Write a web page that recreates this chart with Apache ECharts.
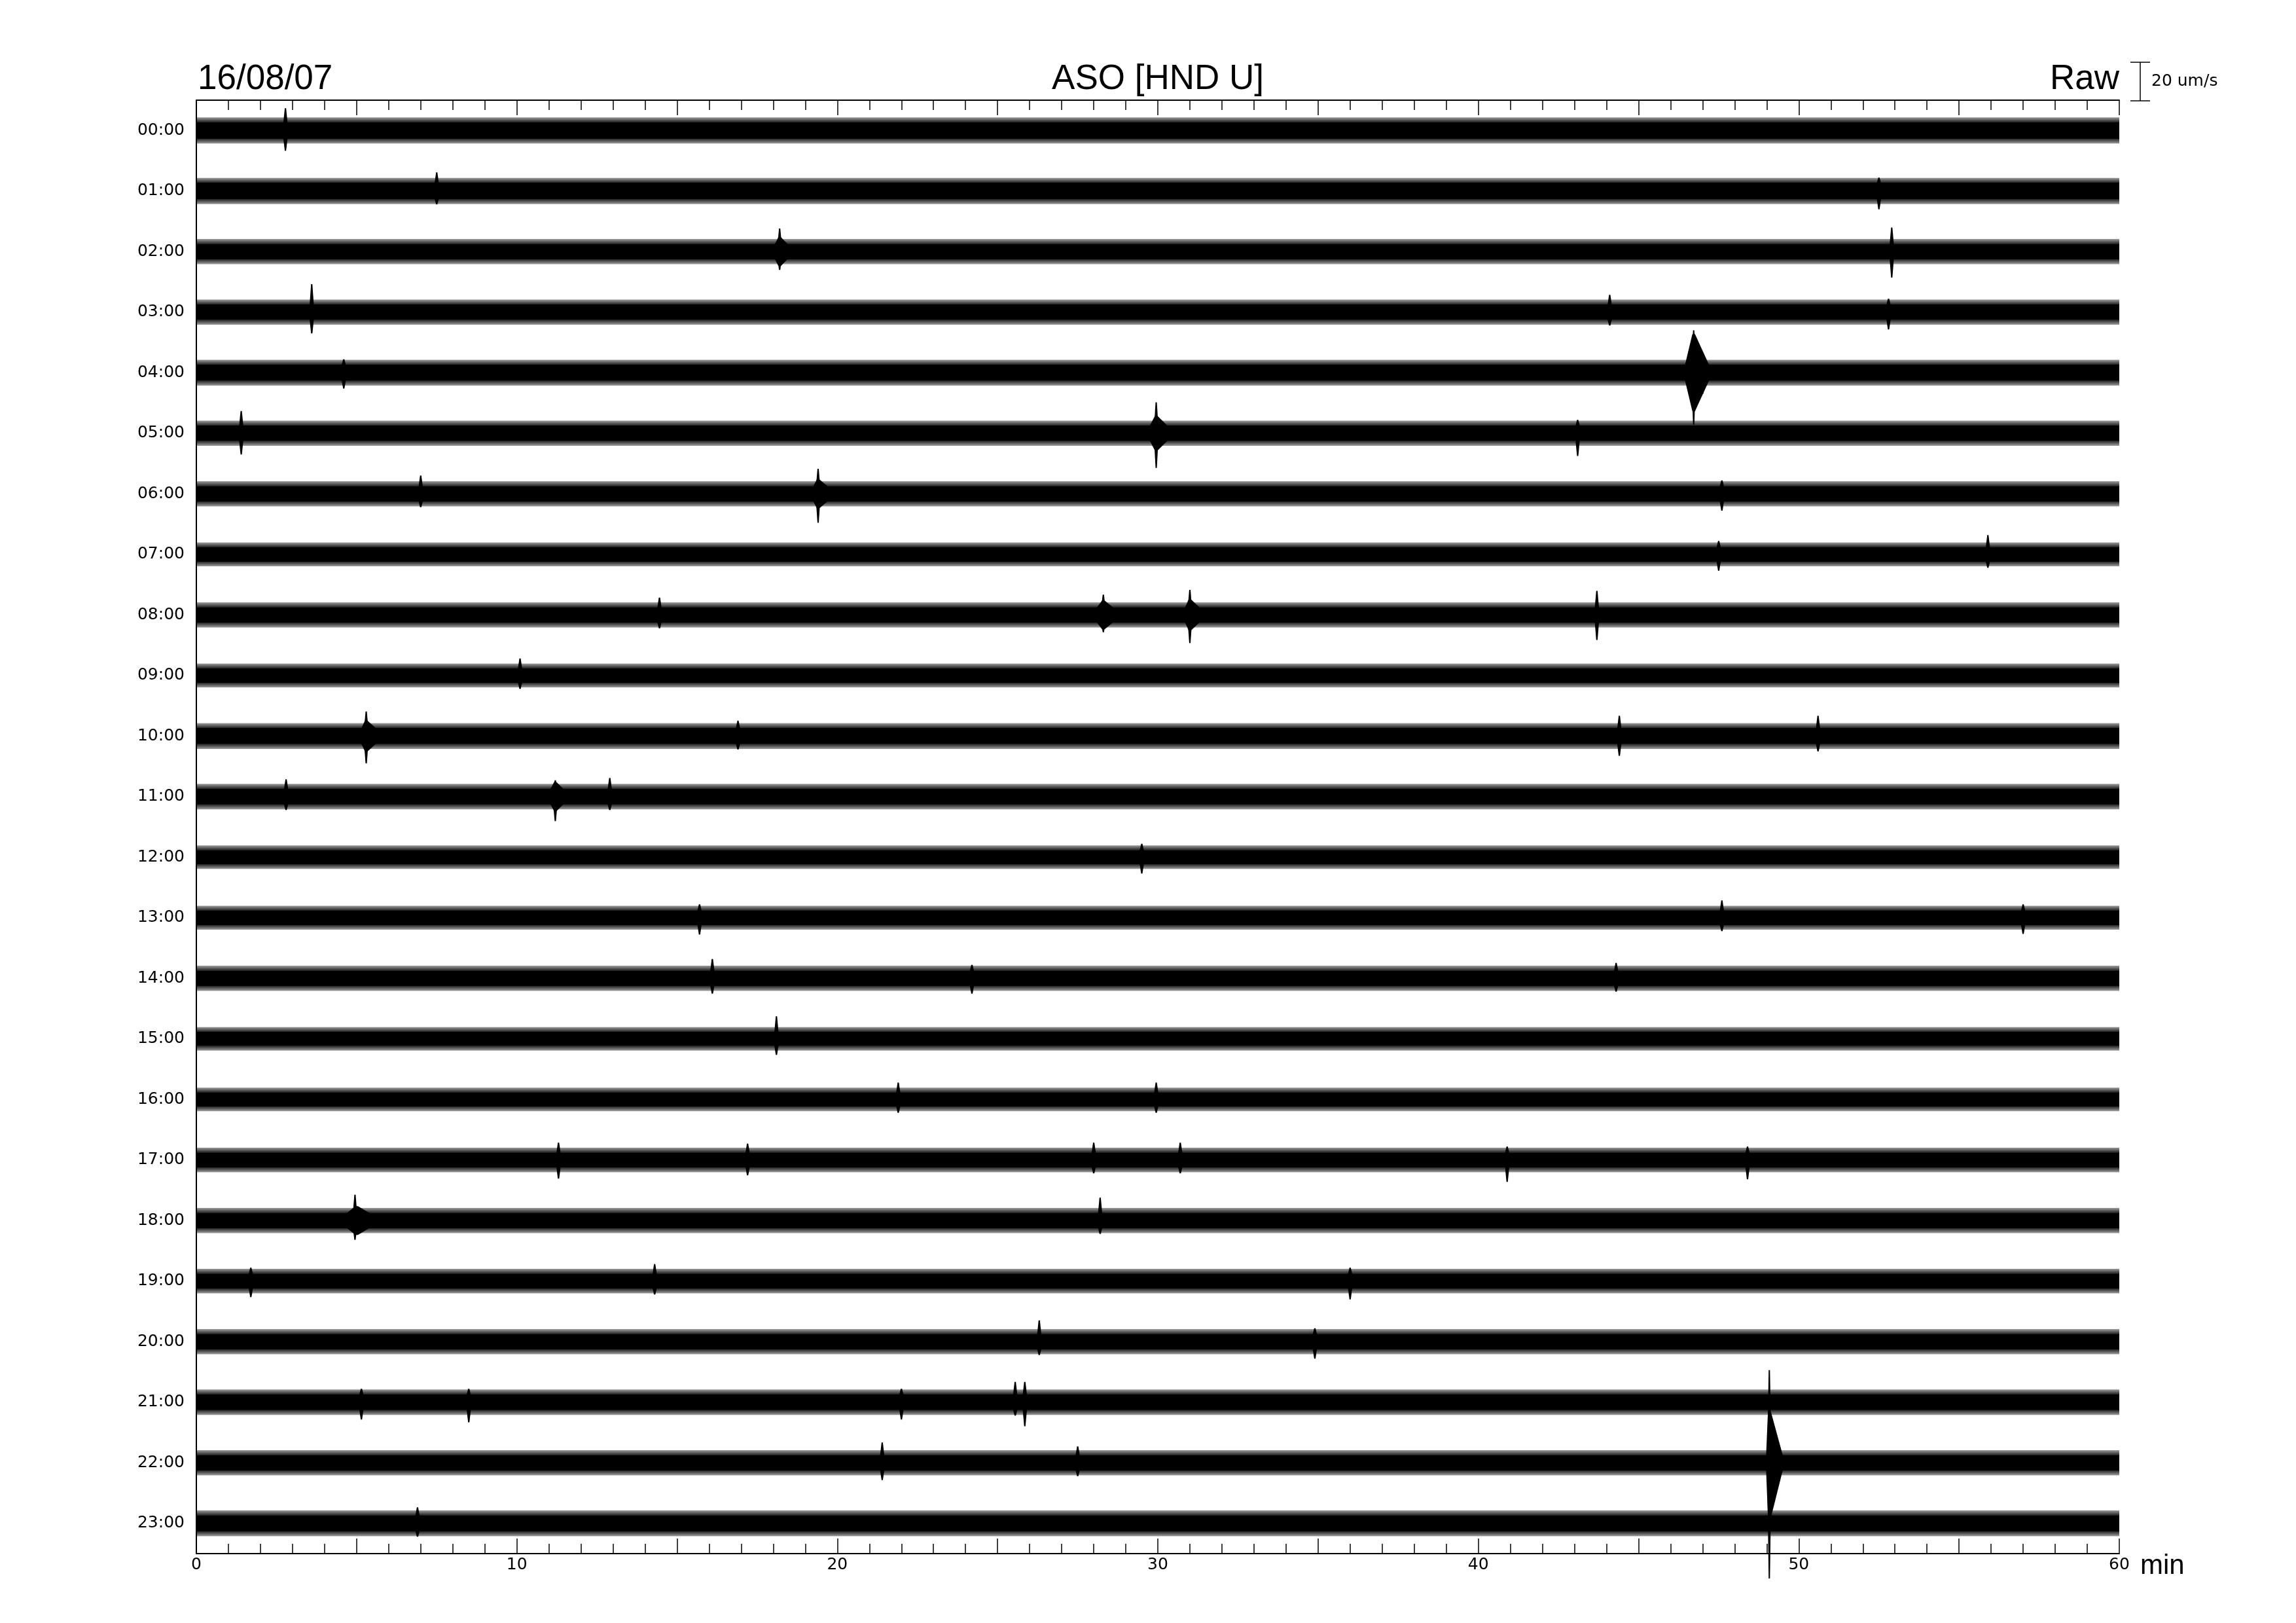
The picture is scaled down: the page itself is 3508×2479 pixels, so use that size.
<!DOCTYPE html>
<html>
<head>
<meta charset="utf-8">
<script src="https://cdn.jsdelivr.net/npm/echarts@6/dist/echarts.min.js"></script>
<style>
html,body{margin:0;padding:0;background:#fff;}
#c{width:3508px;height:2479px;}
</style>
</head>
<body>
<div id="c"></div>
<script>
// ---------- data ----------
const hourLabels = ['00:00','01:00','02:00','03:00','04:00','05:00','06:00','07:00','08:00','09:00','10:00','11:00',
  '12:00','13:00','14:00','15:00','16:00','17:00','18:00','19:00','20:00','21:00','22:00','23:00'];
// trace spacing expressed in um/s (scale bar 20 um/s vs. line spacing)
const UM_PER_TRACE = 31.4;
const SCALE_BAR_UM = 20;
// half-width (um/s) of the dense noise core of each hourly trace
const coreAmp = [4.2,4.2,3.9,3.9,4.1,3.9,3.9,3.7,3.9,3.7,4.1,4.0,3.6,3.7,3.9,3.6,3.6,3.8,3.9,3.8,3.9,4.0,3.9,4.1];
// typical excursion (um/s) of the ordinary noise peaks of each trace
const peakAmp = [6.8,6.8,6.5,6.5,6.7,6.5,6.5,6.2,6.5,6.2,6.7,6.6,6.1,6.2,6.5,6.1,6.1,6.4,6.5,6.4,6.5,6.6,6.5,6.7];
// isolated spikes: [hour, minute, up um/s, down um/s]
const spikes = [
  [0, 2.78, 11.5, 10.5],
  [1, 7.5, 9.7, 7],
  [1, 52.5, 7, 9.5],
  [2, 18.2, 12, 9.5],
  [2, 52.9, 12.5, 13.5],
  [3, 3.6, 14.5, 11],
  [3, 44.1, 9, 7],
  [3, 52.8, 7, 9],
  [4, 4.6, 7, 8.2],
  [4, 46.72, 22, 27],
  [4, 47.0, 8, 11],
  [5, 1.4, 11.5, 11],
  [5, 29.95, 16, 18],
  [5, 43.1, 7, 11.8],
  [6, 7.0, 9.5, 7],
  [6, 19.4, 13, 15],
  [6, 47.6, 7, 8.7],
  [7, 47.5, 7, 8.5],
  [7, 55.9, 10, 7],
  [8, 14.45, 9, 7],
  [8, 28.3, 10.5, 9],
  [8, 31.0, 13, 14.6],
  [8, 43.7, 12.5, 13],
  [9, 10.1, 8.8, 7],
  [10, 5.3, 12.7, 14.2],
  [10, 16.9, 8, 7],
  [10, 44.4, 10.5, 10.3],
  [10, 50.6, 10.5, 8],
  [11, 2.8, 9, 7],
  [11, 11.2, 8.5, 12.7],
  [11, 12.9, 9.7, 7],
  [12, 29.5, 7, 8.5],
  [13, 15.7, 7, 8.7],
  [13, 47.6, 9, 7],
  [13, 57.0, 7, 8.4],
  [14, 16.1, 10, 8],
  [14, 24.2, 7, 8],
  [14, 44.3, 8, 7],
  [15, 18.1, 11.7, 8.3],
  [16, 21.9, 8.7, 7],
  [16, 29.95, 8.7, 7],
  [17, 11.3, 9, 9.7],
  [17, 17.2, 8.5, 8],
  [17, 28.0, 9, 7],
  [17, 30.7, 9, 7],
  [17, 40.9, 7, 11.4],
  [17, 48.4, 7, 10],
  [18, 4.95, 13.4, 10],
  [18, 28.2, 11.9, 7],
  [19, 1.7, 7, 8.3],
  [19, 14.3, 8.8, 7],
  [19, 36.0, 7, 9.5],
  [20, 26.3, 11, 7],
  [20, 34.9, 7, 8.8],
  [21, 5.15, 7, 9],
  [21, 8.5, 7, 10.4],
  [21, 22.0, 7, 9],
  [21, 25.55, 10.5, 7],
  [21, 25.85, 10.5, 12.5],
  [22, 21.4, 10.5, 9],
  [22, 27.5, 8.5, 7],
  [22, 49.08, 48, 60],
  [23, 6.9, 8.3, 7]
];
// wave trains (spindles): [hour, start min, peak min, end min, up um/s, down um/s]
const bursts = [
  [2, 18.05, 18.2, 18.45, 7.5, 7.5],
  [4, 46.45, 46.72, 47.2, 20, 20],
  [5, 29.75, 29.95, 30.3, 9, 9],
  [6, 19.25, 19.4, 19.7, 7.5, 7.5],
  [8, 28.1, 28.3, 28.6, 7.5, 7.5],
  [8, 30.85, 31.0, 31.3, 8, 8],
  [10, 5.15, 5.3, 5.6, 8, 8],
  [11, 11.05, 11.2, 11.45, 7.5, 7.5],
  [18, 4.7, 5.0, 5.4, 7.5, 7.5],
  [22, 48.98, 49.08, 49.5, 27, 29]
];

// ---------- chart ----------
const chart = echarts.init(document.getElementById('c'), null, {renderer: 'canvas'});
const INK = '#000';
const bandData = hourLabels.map((h, i) => [i, coreAmp[i], peakAmp[i]]);

function yOf(api, i, um) { return api.coord([0, i + um / UM_PER_TRACE])[1]; }

function renderBand(params, api) {
  const i = api.value(0), c = api.value(1), p = api.value(2);
  const x0 = api.coord([0, i])[0], x1 = api.coord([60, i])[0];
  const yt = yOf(api, i, -p), yb = yOf(api, i, p);
  const s1 = (p - c) / (2 * p);
  return {
    type: 'rect',
    shape: {x: x0, y: yt, width: x1 - x0, height: yb - yt},
    style: {
      fill: new echarts.graphic.LinearGradient(0, 0, 0, 1, [
        {offset: 0, color: 'rgba(0,0,0,0.38)'},
        {offset: s1, color: 'rgba(0,0,0,0.88)'},
        {offset: s1 + 0.002, color: '#000'},
        {offset: 1 - s1 - 0.002, color: '#000'},
        {offset: 1 - s1, color: 'rgba(0,0,0,0.88)'},
        {offset: 1, color: 'rgba(0,0,0,0.38)'}
      ])
    }
  };
}

function renderSpike(params, api) {
  const i = api.value(0), m = api.value(1), up = api.value(2), dn = api.value(3);
  const c = coreAmp[i];
  const x = api.coord([m, i])[0];
  const yu = yOf(api, i, -up), yd = yOf(api, i, dn);
  const ycu = yOf(api, i, -c), ycd = yOf(api, i, c);
  const w = 3.2, t = 1.0;
  return {
    type: 'polygon',
    shape: {points: [[x - w, ycu], [x - t, yu], [x + t, yu], [x + w, ycu], [x + w, ycd], [x + t, yd], [x - t, yd], [x - w, ycd]]},
    style: {fill: INK}
  };
}

function renderBurst(params, api) {
  const i = api.value(0), s = api.value(1), pk = api.value(2), e = api.value(3), up = api.value(4), dn = api.value(5);
  const c = coreAmp[i];
  const xs = api.coord([s, i])[0], xp = api.coord([pk, i])[0], xe = api.coord([e, i])[0];
  const yu = yOf(api, i, -up), yd = yOf(api, i, dn);
  const ycu = yOf(api, i, -c), ycd = yOf(api, i, c);
  const t = 2;
  return {
    type: 'polygon',
    shape: {points: [[xs, ycu], [xp - t, yu], [xp + t, yu], [xe, ycu], [xe, ycd], [xp + t, yd], [xp - t, yd], [xs, ycd]]},
    style: {fill: INK}
  };
}

const xAxisBase = {
  type: 'value', min: 0, max: 60, interval: 5,
  axisLine: {onZero: false, lineStyle: {color: INK, width: 2}},
  axisTick: {inside: true, length: 23, lineStyle: {color: INK, width: 1.5}},
  minorTick: {show: true, splitNumber: 5, length: 15, lineStyle: {color: INK, width: 1.5}},
  splitLine: {show: false}, minorSplitLine: {show: false}
};

chart.setOption({
  animation: false,
  backgroundColor: '#fff',
  grid: {left: 300, top: 153, width: 2938, height: 2220, containLabel: false, outerBoundsMode: 'none'},
  xAxis: [
    Object.assign({}, xAxisBase, {
      position: 'bottom',
      axisLabel: {formatter: v => (v % 10 === 0 ? String(v) : ''), fontFamily: 'DejaVu Sans', fontSize: 25, color: INK, margin: 5}
    }),
    Object.assign({}, xAxisBase, {position: 'top', axisLabel: {show: false}})
  ],
  yAxis: [
    {
      type: 'category', data: hourLabels, inverse: true, position: 'left', boundaryGap: true,
      axisLine: {lineStyle: {color: INK, width: 2}},
      axisTick: {alignWithLabel: true, interval: 0, length: 15, inside: false, lineStyle: {color: INK, width: 1.5}},
      axisLabel: {interval: 0, fontFamily: 'DejaVu Sans', fontSize: 25, color: INK, margin: 18},
      splitLine: {show: false}
    },
    {
      type: 'category', data: hourLabels, inverse: true, position: 'right', boundaryGap: true,
      axisLine: {lineStyle: {color: INK, width: 2}},
      axisTick: {alignWithLabel: true, interval: 0, length: 16, inside: false, lineStyle: {color: INK, width: 1.5}},
      axisLabel: {show: false},
      splitLine: {show: false}
    },
    {type: 'value', min: -0.5, max: 23.5, inverse: true, show: false, splitLine: {show: false}}
  ],
  series: [
    {type: 'custom', name: 'noise', xAxisIndex: 0, yAxisIndex: 2, data: bandData, renderItem: renderBand, clip: false, silent: true},
    {type: 'custom', name: 'bursts', xAxisIndex: 0, yAxisIndex: 2, data: bursts, renderItem: renderBurst, clip: false, silent: true},
    {type: 'custom', name: 'spikes', xAxisIndex: 0, yAxisIndex: 2, data: spikes, renderItem: renderSpike, clip: false, silent: true}
  ]
});

// scale bar sized through the data axis
const y0 = chart.convertToPixel({yAxisIndex: 2}, 0);
const y1 = chart.convertToPixel({yAxisIndex: 2}, SCALE_BAR_UM / UM_PER_TRACE);
const barLen = y1 - y0;
const barBottom = 154, barX = 3270;
chart.setOption({
  graphic: [
    {type: 'text', x: 302, y: 121, style: {text: '16/08/07', fontFamily: 'Liberation Sans', fontSize: 53, fill: INK, align: 'left', verticalAlign: 'middle'}},
    {type: 'text', x: 1769, y: 121, style: {text: 'ASO [HND U]', fontFamily: 'Liberation Sans', fontSize: 53, fill: INK, align: 'center', verticalAlign: 'middle'}},
    {type: 'text', x: 3238, y: 121, style: {text: 'Raw', fontFamily: 'Liberation Sans', fontSize: 53, fill: INK, align: 'right', verticalAlign: 'middle'}},
    {type: 'line', shape: {x1: barX, y1: barBottom - barLen, x2: barX, y2: barBottom}, style: {stroke: INK, lineWidth: 1.5}},
    {type: 'line', shape: {x1: barX - 15, y1: barBottom - barLen, x2: barX + 15, y2: barBottom - barLen}, style: {stroke: INK, lineWidth: 1.5}},
    {type: 'line', shape: {x1: barX - 15, y1: barBottom, x2: barX + 15, y2: barBottom}, style: {stroke: INK, lineWidth: 1.5}},
    {type: 'text', x: 3287, y: barBottom - barLen / 2, style: {text: '20 um/s', fontFamily: 'DejaVu Sans', fontSize: 25, fill: INK, align: 'left', verticalAlign: 'middle'}},
    {type: 'text', x: 3270, y: 2392, style: {text: 'min', fontFamily: 'Liberation Sans', fontSize: 42, fill: INK, align: 'left', verticalAlign: 'middle'}}
  ]
});
</script>
</body>
</html>
